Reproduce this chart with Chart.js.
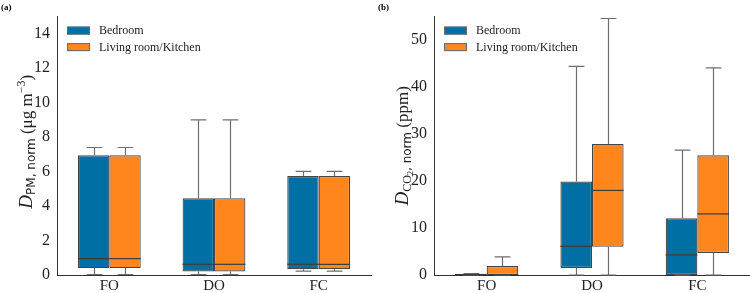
<!DOCTYPE html>
<html>
<head>
<meta charset="utf-8">
<script src="https://cdn.jsdelivr.net/npm/chart.js@4.4.1/dist/chart.umd.min.js"></script>
<style>
    body { margin: 0; background: #fff; }
    #wrap { display: flex; width: 750px; height: 293px; }
    canvas { display: block; }
</style>
</head>
<body>
<div id="wrap">
    <canvas id="pmChart" width="375" height="293"></canvas>
    <canvas id="co2Chart" width="375" height="293"></canvas>
</div>
<script>
// Categories and series
const categories = ['FO', 'DO', 'FC'];
const seriesNames = ['Bedroom', 'Living room/Kitchen'];
const seriesColors = ['#006fa3', '#ff861c'];

// Box stats per category: [min, q1, median, q3, max]
const pmBedroom = [[0.03, 0.4, 0.95, 6.95, 7.4], [0.03, 0.2, 0.62, 4.45, 9.0], [0.23, 0.33, 0.62, 5.75, 6.02]];
const pmLiving = [[0.03, 0.4, 0.95, 6.95, 7.4], [0.03, 0.2, 0.62, 4.45, 9.0], [0.23, 0.33, 0.62, 5.75, 6.02]];
const co2Bedroom = [[0, 0.02, 0.1, 0.22, 0.3], [0, 1.5, 6.1, 19.9, 44.4], [0, 0, 4.3, 12.1, 26.6]];
const co2Living = [[0, 0, 0.05, 1.9, 3.85], [0, 6.0, 18.0, 27.9, 54.6], [0, 4.7, 13.0, 25.5, 44.1]];

// Tick labels
const pmTicks = [0, 2, 4, 6, 8, 10, 12, 14];
const co2Ticks = [0, 10, 20, 30, 40, 50];

const serif = "'Liberation Serif', 'Times New Roman', serif";
const sans = "'DejaVu Sans', sans-serif";

// Whiskers, caps and median lines on top of the floating bars
const boxExtras = {
    id: 'boxExtras',
    afterDatasetsDraw(chart) {
        const ctx = chart.ctx;
        const y = chart.scales.y;
        ctx.save();
        ctx.lineWidth = 1.2;
        chart.data.datasets.forEach((ds, i) => {
            chart.getDatasetMeta(i).data.forEach((bar, j) => {
                const s = ds.stats[j];
                const cx = Math.round(bar.x) + 0.5;
                const left = bar.x - bar.width / 2;
                const right = bar.x + bar.width / 2;
                const cap = bar.width / 4;
                const yMin = y.getPixelForValue(s[0]);
                const yQ1 = y.getPixelForValue(s[1]);
                const yMed = y.getPixelForValue(s[2]);
                const yQ3 = y.getPixelForValue(s[3]);
                const yMax = y.getPixelForValue(s[4]);

                ctx.strokeStyle = '#6e6e6e';
                ctx.beginPath();
                ctx.moveTo(cx, yQ3); ctx.lineTo(cx, yMax);
                ctx.moveTo(cx - cap, yMax); ctx.lineTo(cx + cap, yMax);
                ctx.moveTo(cx, yQ1); ctx.lineTo(cx, yMin);
                ctx.moveTo(cx - cap, yMin); ctx.lineTo(cx + cap, yMin);
                ctx.stroke();

                ctx.strokeStyle = '#3c3c3c';
                ctx.beginPath();
                ctx.moveTo(left, yMed); ctx.lineTo(right, yMed);
                ctx.stroke();
            });
        });
        ctx.restore();
    }
};

// Legend in the upper left of the plot, panel letter, rotated rich y title
const decorations = {
    id: 'decorations',
    afterDraw(chart, args, opts) {
        const ctx = chart.ctx;
        const area = chart.chartArea;
        ctx.save();

        // panel letter
        ctx.fillStyle = '#000';
        ctx.font = 'bold 9px ' + serif;
        ctx.textBaseline = 'top';
        ctx.textAlign = 'left';
        ctx.fillText(opts.letter, opts.letterX, 3);

        // legend
        ctx.font = '12px ' + serif;
        ctx.textBaseline = 'middle';
        chart.data.datasets.forEach((ds, i) => {
            const top = area.top + 10 + i * 16.5;
            ctx.fillStyle = ds.backgroundColor;
            ctx.fillRect(area.left + 10, top, 23, 8);
            ctx.strokeStyle = '#6a6a6a';
            ctx.lineWidth = 1;
            ctx.strokeRect(area.left + 10.5, top + 0.5, 22, 7);
            ctx.fillStyle = '#222';
            ctx.fillText(ds.label, area.left + 42, top + 4.5);
        });

        // y title
        const segs = opts.title;
        let total = 0;
        segs.forEach(s => { ctx.font = s.f; total += ctx.measureText(s.t).width; });
        ctx.translate(opts.titleX, (area.top + area.bottom) / 2 - opts.titleUp);
        ctx.rotate(-Math.PI / 2);
        ctx.textAlign = 'left';
        ctx.textBaseline = 'alphabetic';
        ctx.fillStyle = '#222';
        let x = -total / 2;
        segs.forEach(s => {
            ctx.font = s.f;
            ctx.fillText(s.t, x, s.dy);
            x += ctx.measureText(s.t).width;
        });
        ctx.restore();
    }
};

function makeChart(id, bedroom, living, yMax, ticks, axisWidth, padRight, deco) {
    const datasets = [bedroom, living].map((stats, i) => ({
        label: seriesNames[i],
        data: stats.map(s => [s[1], s[3]]),
        stats: stats,
        backgroundColor: seriesColors[i],
        borderColor: '#454545',
        borderWidth: 1.2,
        borderSkipped: false,
        categoryPercentage: 0.6,
        barPercentage: 1.0
    }));

    return new Chart(document.getElementById(id), {
        type: 'bar',
        data: { labels: categories, datasets: datasets },
        options: {
            responsive: false,
            animation: false,
            devicePixelRatio: 1,
            layout: { padding: { top: 13, right: padRight, left: 0, bottom: 0 } },
            plugins: {
                legend: { display: false },
                tooltip: { enabled: false },
                decorations: deco
            },
            scales: {
                x: {
                    grid: { display: false, drawTicks: false },
                    border: { display: true, color: '#333', width: 1 },
                    ticks: { color: '#222', font: { family: serif, size: 15 }, padding: 2 },
                    afterFit: s => { s.height = 18; }
                },
                y: {
                    min: 0,
                    max: yMax,
                    grid: { display: false, drawTicks: false },
                    border: { display: true, color: '#333', width: 1 },
                    ticks: { color: '#222', font: { family: serif, size: 16 }, padding: 7 },
                    afterBuildTicks: s => { s.ticks = ticks.map(v => ({ value: v })); },
                    afterFit: s => { s.width = axisWidth; }
                }
            }
        },
        plugins: [boxExtras, decorations]
    });
}

makeChart('pmChart', pmBedroom, pmLiving, 15, pmTicks, 57, 4, {
    letter: '(a)', letterX: 1, titleX: 32, titleUp: 4,
    title: [
        { t: 'D', f: 'italic 19px ' + serif, dy: 0 },
        { t: 'PM, norm', f: '12px ' + sans, dy: 3 },
        { t: ' (μg m', f: '17px ' + serif, dy: 0 },
        { t: '−3', f: '12px ' + serif, dy: -7 },
        { t: ')', f: '17px ' + serif, dy: 0 }
    ]
});

makeChart('co2Chart', co2Bedroom, co2Living, 55, co2Ticks, 59, 0, {
    letter: '(b)', letterX: 3, titleX: 33, titleUp: 0,
    title: [
        { t: 'D', f: 'italic 19px ' + serif, dy: 0 },
        { t: 'CO', f: '12px ' + serif, dy: 3 },
        { t: '2', f: '8px ' + serif, dy: 5 },
        { t: ', norm', f: '12px ' + sans, dy: 3 },
        { t: ' (ppm)', f: '17px ' + serif, dy: 0 }
    ]
});
</script>
</body>
</html>
